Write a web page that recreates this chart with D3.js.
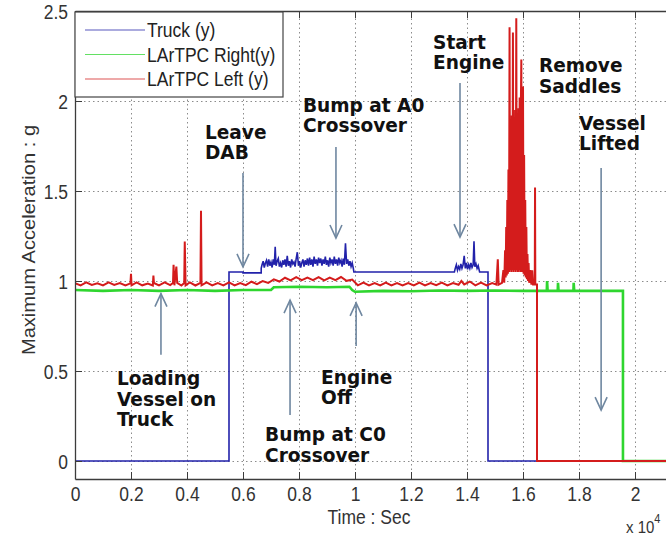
<!DOCTYPE html>
<html>
<head>
<meta charset="utf-8">
<script src="https://cdn.jsdelivr.net/npm/d3@7/dist/d3.min.js"></script>
<style>
body { margin: 0; background: #fff; }
svg { display: block; }
</style>
</head>
<body>
<script>
// time is in units of 10^4 s (axis shows "x 10^4"), acceleration in g
const xTicks = [0, 0.2, 0.4, 0.6, 0.8, 1, 1.2, 1.4, 1.6, 1.8, 2];
const yTicks = [0, 0.5, 1, 1.5, 2, 2.5];
const seriesNames = ["Truck (y)", "LArTPC Right(y)", "LArTPC Left (y)"];
const seriesColors = ["#2222aa", "#2fd62f", "#d41c1c"];

const truck = [
  [0, 0], [0.55, 0], [0.55, 1.05], [0.6, 1.05], [0.6, 1.045], [0.665, 1.045], [0.665, 1.07],
  [0.668, 1.09], [0.672, 1.11], [0.676, 1.075], [0.680, 1.10], [0.684, 1.115], [0.688, 1.08],
  [0.692, 1.12], [0.696, 1.085], [0.700, 1.105], [0.704, 1.075], [0.708, 1.12], [0.712, 1.09],
  [0.715, 1.19], [0.718, 1.085], [0.722, 1.11], [0.726, 1.125], [0.730, 1.08], [0.734, 1.10],
  [0.738, 1.075], [0.742, 1.115], [0.746, 1.09], [0.750, 1.12], [0.754, 1.08], [0.758, 1.14],
  [0.762, 1.085], [0.766, 1.11], [0.770, 1.075], [0.774, 1.12], [0.778, 1.095], [0.782, 1.105],
  [0.786, 1.08], [0.790, 1.125], [0.794, 1.16], [0.798, 1.085], [0.802, 1.11], [0.806, 1.075],
  [0.810, 1.10], [0.814, 1.12], [0.818, 1.08], [0.822, 1.115], [0.826, 1.09], [0.830, 1.125],
  [0.834, 1.085], [0.838, 1.13], [0.842, 1.09], [0.846, 1.12], [0.850, 1.08], [0.854, 1.135],
  [0.858, 1.095], [0.862, 1.12], [0.866, 1.085], [0.870, 1.13], [0.874, 1.10], [0.878, 1.125],
  [0.882, 1.085], [0.886, 1.12], [0.890, 1.095], [0.894, 1.135], [0.898, 1.09], [0.902, 1.115],
  [0.906, 1.08], [0.910, 1.13], [0.914, 1.10], [0.918, 1.12], [0.922, 1.085], [0.926, 1.135],
  [0.930, 1.095], [0.934, 1.12], [0.938, 1.085], [0.942, 1.13], [0.946, 1.10], [0.950, 1.115],
  [0.954, 1.08], [0.958, 1.125], [0.962, 1.09], [0.966, 1.21], [0.970, 1.095], [0.974, 1.12],
  [0.978, 1.085], [0.982, 1.11], [0.986, 1.08], [0.990, 1.10], [0.994, 1.07],
  [0.996, 1.05], [1.355, 1.05],
  [1.358, 1.07], [1.362, 1.09], [1.366, 1.06], [1.370, 1.08], [1.374, 1.065], [1.378, 1.095],
  [1.382, 1.07], [1.386, 1.09], [1.390, 1.14], [1.394, 1.07], [1.398, 1.10], [1.402, 1.065],
  [1.406, 1.09], [1.410, 1.07], [1.414, 1.10], [1.418, 1.075], [1.422, 1.09], [1.425, 1.22],
  [1.428, 1.08], [1.432, 1.095], [1.436, 1.07], [1.440, 1.085],
  [1.445, 1.05], [1.475, 1.05], [1.475, 0], [2.2, 0]
];

const right = [
  [0, 0.95], [0.1, 0.945], [0.2, 0.95], [0.3, 0.945], [0.4, 0.95], [0.5, 0.945], [0.6, 0.95],
  [0.7, 0.95], [0.71, 0.965], [0.8, 0.968], [0.9, 0.965], [0.98, 0.968], [0.99, 0.95],
  [1.0, 0.94], [1.1, 0.945], [1.2, 0.943], [1.3, 0.947], [1.4, 0.945], [1.5, 0.947],
  [1.6, 0.945], [1.685, 0.945], [1.686, 1.0], [1.688, 0.945], [1.724, 0.945], [1.725, 0.99],
  [1.727, 0.945], [1.78, 0.945], [1.781, 0.99], [1.783, 0.945], [1.957, 0.945], [1.957, 0],
  [2.2, 0]
];

const left = [
  [0, 0.988], [0.02, 0.976], [0.04, 0.992], [0.06, 0.978], [0.08, 0.987], [0.10, 0.975],
  [0.12, 0.992], [0.14, 0.978], [0.16, 0.989], [0.18, 0.975], [0.198, 0.987], [0.2, 1.04],
  [0.202, 0.976], [0.22, 0.992], [0.24, 0.976], [0.26, 0.986], [0.278, 0.975], [0.28, 1.03],
  [0.282, 0.989], [0.30, 0.976], [0.32, 0.992], [0.34, 0.977], [0.35, 0.989], [0.352, 1.09],
  [0.355, 0.976], [0.362, 1.08], [0.365, 0.989], [0.38, 0.975], [0.39, 0.989], [0.392, 1.22],
  [0.395, 0.976], [0.41, 0.992], [0.43, 0.975], [0.448, 0.989], [0.45, 1.39], [0.452, 0.976],
  [0.47, 0.992], [0.49, 0.975], [0.51, 0.988], [0.53, 0.976], [0.55, 0.992], [0.57, 0.975],
  [0.59, 0.989], [0.61, 0.977], [0.63, 0.996], [0.65, 0.983], [0.67, 1.0], [0.69, 0.989],
  [0.71, 1.009], [0.73, 0.997], [0.75, 1.018], [0.77, 1.003], [0.79, 1.022], [0.81, 1.005],
  [0.83, 1.019], [0.85, 1.005], [0.87, 1.022], [0.89, 1.003], [0.91, 1.019], [0.93, 1.005],
  [0.95, 1.022], [0.97, 1.001], [0.99, 1.008], [1.01, 0.976], [1.03, 0.991], [1.05, 0.976],
  [1.07, 0.988], [1.09, 0.975], [1.11, 0.991], [1.13, 0.976], [1.15, 0.989], [1.17, 0.975],
  [1.19, 0.988], [1.21, 0.976], [1.23, 0.991], [1.25, 0.975], [1.27, 0.989], [1.29, 0.977],
  [1.31, 0.991], [1.33, 0.975], [1.35, 0.989], [1.37, 0.979], [1.38, 1.0], [1.39, 0.981],
  [1.41, 0.997], [1.43, 0.976], [1.45, 0.991], [1.47, 0.975], [1.49, 0.989], [1.505, 0.98],
  [1.51, 1.12], [1.513, 0.98], [1.525, 0.99], [1.53, 1.06], [1.533, 0.99],
  [1.536, 1.17], [1.538, 1.02], [1.540, 1.30], [1.542, 1.03], [1.544, 1.45], [1.546, 1.04],
  [1.548, 1.62], [1.550, 1.05], [1.552, 2.41], [1.554, 1.06], [1.556, 1.85], [1.558, 1.05],
  [1.560, 1.92], [1.562, 1.06], [1.564, 2.38], [1.566, 1.05], [1.568, 1.90], [1.570, 1.06],
  [1.572, 1.95], [1.574, 1.05], [1.576, 2.46], [1.578, 1.06], [1.580, 1.93], [1.582, 1.05],
  [1.584, 1.96], [1.586, 1.06], [1.588, 2.02], [1.590, 1.05], [1.592, 1.92], [1.594, 2.23],
  [1.596, 1.05], [1.598, 1.90], [1.600, 2.08], [1.602, 1.04], [1.604, 1.70], [1.606, 1.03],
  [1.608, 1.45], [1.610, 1.02], [1.612, 1.30], [1.614, 1.01], [1.616, 1.15], [1.618, 1.0],
  [1.620, 1.10], [1.622, 0.99], [1.626, 1.06], [1.63, 0.98], [1.633, 1.06], [1.636, 0.98],
  [1.642, 0.98], [1.643, 1.52], [1.644, 0.98], [1.65, 0.98], [1.65, 0], [2.2, 0]
];

// annotation text: left edge time, first baseline value
const notes = [
  {lines: ["Loading", "Vessel on", "Truck"], t: 0.15, v: 0.42},
  {lines: ["Leave", "DAB"], t: 0.464, v: 1.79},
  {lines: ["Bump at A0", "Crossover"], t: 0.814, v: 1.94},
  {lines: ["Bump at C0", "Crossover"], t: 0.679, v: 0.111},
  {lines: ["Engine", "Off"], t: 0.879, v: 0.428},
  {lines: ["Start", "Engine"], t: 1.279, v: 2.29},
  {lines: ["Remove", "Saddles"], t: 1.657, v: 2.16},
  {lines: ["Vessel", "Lifted"], t: 1.8, v: 1.84}
];
// arrows: time, start value, tip value
const arrows = [
  {t: 0.307, from: 0.59, to: 0.93},
  {t: 0.6, from: 1.6, to: 1.078},
  {t: 0.932, from: 1.744, to: 1.239},
  {t: 0.768, from: 0.256, to: 0.894},
  {t: 1.004, from: 0.639, to: 0.878},
  {t: 1.375, from: 2.1, to: 1.244},
  {t: 1.879, from: 1.628, to: 0.283}
];

const W = 666, H = 538;
const stretch = 1.15; // the picture's text is a bit taller than wide
const svg = d3.select("body").append("svg").attr("width", W).attr("height", H);

const x = d3.scaleLinear().domain([0, 2.2]).range([75, 691]);
const y = d3.scaleLinear().domain([-0.1, 2.5]).range([479, 11]);
const plotH = y(-0.1) - y(2.5);
const plotW = x(2.2) - x(0);

svg.append("defs").append("clipPath").attr("id", "plot")
  .append("rect").attr("x", x(0)).attr("y", y(2.5)).attr("width", plotW).attr("height", plotH);

// dotted grid
svg.append("g")
  .attr("transform", "translate(0," + y(-0.1) + ")")
  .call(d3.axisBottom(x).tickValues(xTicks).tickSize(-plotH).tickFormat(""))
  .call(g => g.select(".domain").remove())
  .selectAll("line").attr("stroke", "#8c8c8c").attr("stroke-dasharray", "1.5,3");
svg.append("g")
  .attr("transform", "translate(" + x(0) + ",0)")
  .call(d3.axisLeft(y).tickValues(yTicks).tickSize(-plotW).tickFormat(""))
  .call(g => g.select(".domain").remove())
  .selectAll("line").attr("stroke", "#8c8c8c").attr("stroke-dasharray", "1.5,3");

// series
const line = d3.line().x(d => x(d[0])).y(d => y(d[1]));
const lines = svg.append("g").attr("clip-path", "url(#plot)");
lines.append("path").datum(truck).attr("d", line)
  .attr("fill", "none").attr("stroke", seriesColors[0]).attr("stroke-width", 1.6);
lines.append("path").datum(right).attr("d", line)
  .attr("fill", "none").attr("stroke", seriesColors[1]).attr("stroke-width", 2.6);
lines.append("path").datum(left).attr("d", line)
  .attr("fill", "none").attr("stroke", seriesColors[2]).attr("stroke-width", 2);

// axes (inward ticks, MATLAB style)
const tickFont = "'Liberation Sans', Arial, sans-serif";
const xAx = svg.append("g")
  .attr("transform", "translate(0," + y(-0.1) + ")")
  .call(d3.axisBottom(x).tickValues(xTicks).tickSizeInner(-7).tickSizeOuter(0).tickFormat(d3.format("~g")));
xAx.selectAll("text").attr("y", 0).attr("dy", 0)
  .attr("transform", "translate(0,22) scale(1," + stretch + ")");
const xTop = svg.append("g")
  .attr("transform", "translate(0," + y(2.5) + ")")
  .call(d3.axisTop(x).tickValues(xTicks).tickSizeInner(-7).tickSizeOuter(0).tickFormat(""));
const yAx = svg.append("g")
  .attr("transform", "translate(" + x(0) + ",0)")
  .call(d3.axisLeft(y).tickValues(yTicks).tickSizeInner(-7).tickSizeOuter(0).tickFormat(d3.format("~g")));
yAx.selectAll("text").attr("x", 0).attr("dy", 0)
  .attr("transform", "translate(-7,7) scale(1," + stretch + ")");
[xAx, xTop, yAx].forEach(g => {
  g.selectAll(".domain, line").attr("stroke", "#3c3c3c");
  g.select(".domain").attr("stroke-width", 1.3);
  g.selectAll("text").attr("font-family", tickFont).attr("font-size", 17.5).attr("fill", "#333");
});

// axis titles
svg.append("text")
  .attr("transform", "translate(369,524) scale(1," + stretch + ")")
  .attr("text-anchor", "middle").attr("font-family", tickFont).attr("font-size", 17.5).attr("fill", "#333")
  .text("Time : Sec");
svg.append("text")
  .attr("transform", "translate(29,240) scale(1," + stretch + ") rotate(-90)")
  .attr("text-anchor", "middle").attr("dy", "0.35em")
  .attr("font-family", tickFont).attr("font-size", 17.5).attr("fill", "#333")
  .text("Maximum Acceleration : g");
const mult = svg.append("text")
  .attr("transform", "translate(626,533) scale(1," + stretch + ")")
  .attr("font-family", tickFont).attr("font-size", 15).attr("fill", "#333");
mult.append("tspan").text("x 10");
mult.append("tspan").attr("font-size", 11).attr("dy", -9).text("4");

// legend
const leg = svg.append("g");
leg.append("rect").attr("x", x(0)).attr("y", 12).attr("width", 208).attr("height", 85)
  .attr("fill", "#fff").attr("stroke", "#444").attr("stroke-width", 1.2);
seriesNames.forEach((name, i) => {
  const base = 37 + i * 24.5;
  leg.append("line").attr("x1", 85).attr("x2", 145).attr("y1", base - 7).attr("y2", base - 7)
    .attr("stroke", seriesColors[i]).attr("stroke-width", 1.2).attr("opacity", 0.75);
  leg.append("text").attr("transform", "translate(147," + base + ") scale(1," + stretch + ")")
    .attr("font-family", tickFont).attr("font-size", 17.5).attr("fill", "#222").text(name);
});

// annotations
const ann = svg.append("g");
arrows.forEach(a => {
  const px = x(a.t), y0 = y(a.from), y1 = y(a.to);
  const dir = y1 > y0 ? -1 : 1;
  ann.append("line").attr("x1", px).attr("x2", px).attr("y1", y0).attr("y2", y1)
    .attr("stroke", "#6f87a0").attr("stroke-width", 1.6);
  ann.append("path")
    .attr("d", "M" + (px - 6) + "," + (y1 + dir * 13) + "L" + px + "," + y1 + "L" + (px + 6) + "," + (y1 + dir * 13))
    .attr("fill", "none").attr("stroke", "#6f87a0").attr("stroke-width", 1.6);
});
// slightly smaller em box, widened, so stacked lines do not collide
notes.forEach(n => {
  n.lines.forEach((s, i) => {
    ann.append("text")
      .attr("transform", "translate(" + x(n.t) + "," + (y(n.v) + i * 20.5) + ") scale(1.06,1.1)")
      .attr("font-family", "'DejaVu Sans', Verdana, sans-serif").attr("font-weight", "bold")
      .attr("font-size", 17.5).attr("fill", "#111").text(s);
  });
});
</script>
</body>
</html>
